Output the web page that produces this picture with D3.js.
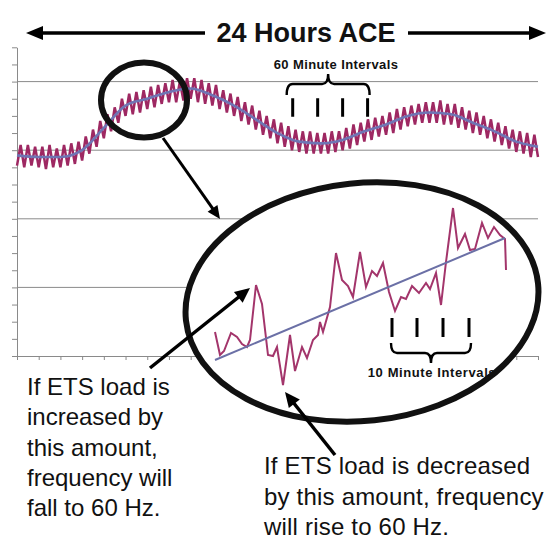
<!DOCTYPE html>
<html>
<head>
<meta charset="utf-8">
<script src="https://cdn.jsdelivr.net/npm/d3@7"></script>
<style>
  body { margin: 0; background: #fff; }
  svg { display: block; font-family: "Liberation Sans", Arial, sans-serif; }
</style>
</head>
<body>
<svg id="chart" width="548" height="541"></svg>
<script>
// ---- data (axis units) ----
// smooth ACE trend, one value per hour 0..24
var trendValues = [11.7, 11.6, 11.6, 12.0, 13.3, 14.6, 15.0, 15.4, 15.6, 15.2, 14.6, 13.8, 13.0,
                   12.5, 12.4, 12.6, 13.1, 13.5, 14.0, 14.2, 14.1, 13.6, 13.1, 12.5, 12.2];
// raw ACE, one value every 10 minutes
var rawValues = [
  11.1, 12.3, 11.0, 12.3, 11.1, 12.2,
  11.0, 12.2, 10.9, 12.3, 11.0, 12.1,
  11.0, 12.3, 11.1, 12.4, 11.2, 12.5,
  11.4, 12.8, 11.8, 13.2, 12.2, 13.7,
  12.7, 14.1, 13.1, 14.5, 13.6, 15.0,
  14.0, 15.3, 14.1, 15.4, 14.2, 15.5,
  14.4, 15.7, 14.5, 15.8, 14.7, 15.9,
  14.8, 16.1, 14.8, 16.0, 14.9, 16.2,
  15.0, 16.2, 14.8, 16.1, 14.7, 15.9,
  14.6, 15.8, 14.4, 15.5, 14.2, 15.3,
  14.0, 15.1, 13.7, 14.8, 13.5, 14.6,
  13.2, 14.3, 12.9, 14.0, 12.7, 13.8,
  12.4, 13.6, 12.2, 13.4, 12.0, 13.2,
  11.9, 13.1, 11.8, 13.1, 11.8, 13.0,
  11.8, 13.0, 11.8, 13.1, 11.9, 13.1,
  12.0, 13.3, 12.1, 13.5, 12.3, 13.6,
  12.5, 13.8, 12.6, 13.9, 12.8, 14.0,
  12.9, 14.2, 13.0, 14.4, 13.2, 14.5,
  13.4, 14.6, 13.5, 14.7, 13.6, 14.8,
  13.6, 14.8, 13.6, 14.9, 13.5, 14.7,
  13.5, 14.7, 13.3, 14.5, 13.2, 14.3,
  13.0, 14.2, 12.9, 14.0, 12.7, 13.8,
  12.5, 13.6, 12.3, 13.4, 12.1, 13.2,
  11.9, 13.1, 11.8, 13.0, 11.6, 12.9,
  11.6
];
var samplesPerHour = 6;

// zoomed-in detail (minutes, value)
var insetMinutes = [0, 1, 1.8, 3.2, 4.4, 5.4, 6.4, 7, 8.2, 9.4, 10.6, 11.6, 12.4, 13.6, 15, 16, 17.4, 18.4,
                    19.6, 20.6, 21, 21.6, 23, 24.2, 25.4, 26.6, 27.6, 29, 30.2, 31.4, 32.4, 33.6, 34.8, 36,
                    37.2, 38.2, 39.4, 40.8, 42.2, 43, 44.2, 45.2, 46.2, 47.6, 48.6, 50, 51, 52, 53.4, 54.6,
                    55.8, 57, 58, 58.2];
var insetValues = [11.6, 7, 7.8, 11.4, 10.6, 9.2, 8.6, 10, 21, 17.2, 7, 6.8, 8.6, 1, 11, 3.8, 8.6, 6.4,
                   10, 11, 13.6, 11.6, 16.6, 27.4, 22, 20.8, 18.6, 27.6, 20.6, 23.8, 22.8, 25.4, 19.6, 15.8,
                   18.6, 18.2, 20.8, 19.4, 21.4, 20.2, 23.4, 17, 25.6, 36.4, 28.4, 31.2, 28, 28.2, 33.4, 30.4,
                   32.6, 31, 30.2, 24];
var insetTrendMinutes = [0, 58];
var insetTrendValues = [6, 30.4];

var gridValues = [4, 8, 12, 16];
var hourMarks = [12.7, 13.85, 15.0, 16.15];     // "60 Minute Intervals" ticks (hours)
var tenMinMarks = [35.4, 40.4, 45.6, 50.8];     // "10 Minute Intervals" ticks (minutes)

// ---- layout ----
var svg = d3.select("#chart");

var x = d3.scaleLinear().domain([0, 24]).range([17, 538]);
var y = d3.scaleLinear().domain([0, 18]).range([356, 47.3]);

var ix = d3.scaleLinear().domain([0, 58]).range([215, 505]);
var iy = d3.scaleLinear().domain([0, 36]).range([390, 210]);

// gridlines
svg.append("g")
    .selectAll("line")
    .data(gridValues)
    .enter().append("line")
    .attr("x1", x(0)).attr("x2", x(24))
    .attr("y1", function(d) { return y(d); })
    .attr("y2", function(d) { return y(d); })
    .attr("stroke", "#8a8a8a")
    .attr("stroke-width", 1);

// axes, no labels
svg.append("g")
    .attr("transform", "translate(" + x(0) + ",0)")
    .call(d3.axisLeft(y).ticks(18).tickSize(5).tickSizeOuter(0).tickFormat(""));
svg.append("g")
    .attr("transform", "translate(0," + y(0) + ")")
    .call(d3.axisBottom(x).ticks(24).tickSize(4).tickSizeOuter(0).tickFormat(""));
svg.selectAll(".domain, .tick line").attr("stroke", "#8a8a8a");

// raw and trend lines
var rawLine = d3.line()
    .x(function(d, i) { return x(i / samplesPerHour); })
    .y(function(d) { return y(d); });
svg.append("path")
    .datum(rawValues)
    .attr("d", rawLine)
    .attr("fill", "none")
    .attr("stroke", "#9e2862")
    .attr("stroke-width", 2.5);

var trendLine = d3.line()
    .curve(d3.curveMonotoneX)
    .x(function(d, i) { return x(i); })
    .y(function(d) { return y(d); });
svg.append("path")
    .datum(trendValues)
    .attr("d", trendLine)
    .attr("fill", "none")
    .attr("stroke", "#6f74b4")
    .attr("stroke-width", 2.6);

// helpers
function arrow(x1, y1, x2, y2, w, head, hw) {
    var a = Math.atan2(y2 - y1, x2 - x1);
    var bx = x2 - head * Math.cos(a), by = y2 - head * Math.sin(a);
    var px = -Math.sin(a) * hw, py = Math.cos(a) * hw;
    svg.append("line")
        .attr("x1", x1).attr("y1", y1).attr("x2", bx + Math.cos(a)).attr("y2", by + Math.sin(a))
        .attr("stroke", "#000").attr("stroke-width", w);
    svg.append("polygon")
        .attr("points", [[x2, y2], [bx + px, by + py], [bx - px, by - py]].join(" "))
        .attr("fill", "#000");
}

// curly brace between x0 and x1, hooks at yEnd, bar at yBar, point at yTip
function brace(x0, x1, yEnd, yBar, yTip) {
    var xm = (x0 + x1) / 2, r = 6;
    var p = d3.path();
    p.moveTo(x0, yEnd);
    p.quadraticCurveTo(x0, yBar, x0 + r, yBar);
    p.lineTo(xm - r, yBar);
    p.quadraticCurveTo(xm, yBar, xm, yTip);
    p.quadraticCurveTo(xm, yBar, xm + r, yBar);
    p.lineTo(x1 - r, yBar);
    p.quadraticCurveTo(x1, yBar, x1, yEnd);
    svg.append("path").attr("d", p.toString())
        .attr("fill", "none").attr("stroke", "#000").attr("stroke-width", 2.4);
}

// title with double arrow
svg.append("text")
    .attr("x", 306).attr("y", 42)
    .attr("text-anchor", "middle")
    .attr("font-size", 27).attr("font-weight", "bold")
    .attr("fill", "#111")
    .text("24 Hours ACE");
arrow(205, 33, 26, 33, 3.5, 17, 7);
arrow(408, 33, 546, 33, 3.5, 17, 7);

// 60 minute marks
svg.append("text")
    .attr("x", 336).attr("y", 69)
    .attr("text-anchor", "middle")
    .attr("font-size", 13).attr("font-weight", "bold")
    .attr("letter-spacing", 0.4)
    .attr("fill", "#111")
    .text("60 Minute Intervals");
brace(x(hourMarks[0]) - 6, x(hourMarks[3]) + 2, 95, 84, 74);
svg.append("g").selectAll("line")
    .data(hourMarks)
    .enter().append("line")
    .attr("x1", function(d) { return x(d); }).attr("x2", function(d) { return x(d); })
    .attr("y1", y(15.03)).attr("y2", y(13.95))
    .attr("stroke", "#000").attr("stroke-width", 3);

// small circle around the peak
svg.append("ellipse")
    .attr("cx", 144).attr("cy", 100).attr("rx", 43).attr("ry", 37.5)
    .attr("fill", "none").attr("stroke", "#111").attr("stroke-width", 6);
arrow(163, 138, 220, 219, 3, 13, 6);

// big zoom ellipse
svg.append("ellipse")
    .attr("cx", 362).attr("cy", 302).attr("rx", 177).attr("ry", 119)
    .attr("transform", "rotate(-6,362,302)")
    .attr("fill", "#fff").attr("stroke", "#111").attr("stroke-width", 6);

var insetLine = d3.line()
    .x(function(d) { return ix(d[0]); })
    .y(function(d) { return iy(d[1]); });
svg.append("path")
    .datum(d3.zip(insetMinutes, insetValues))
    .attr("d", insetLine)
    .attr("fill", "none")
    .attr("stroke", "#a3356b")
    .attr("stroke-width", 2);
svg.append("path")
    .datum(d3.zip(insetTrendMinutes, insetTrendValues))
    .attr("d", insetLine)
    .attr("fill", "none")
    .attr("stroke", "#6b70a6")
    .attr("stroke-width", 2);

// 10 minute marks
svg.append("g").selectAll("line")
    .data(tenMinMarks)
    .enter().append("line")
    .attr("x1", function(d) { return ix(d); }).attr("x2", function(d) { return ix(d); })
    .attr("y1", 318).attr("y2", 337)
    .attr("stroke", "#000").attr("stroke-width", 3);
brace(ix(tenMinMarks[0]) - 1, ix(tenMinMarks[3]) + 2, 343, 353, 363);
svg.append("text")
    .attr("x", 432).attr("y", 377)
    .attr("text-anchor", "middle")
    .attr("font-size", 13).attr("font-weight", "bold")
    .attr("letter-spacing", 0.6)
    .attr("fill", "#111")
    .text("10 Minute Intervals");

// callout arrows
arrow(150, 368, 250, 288, 3.5, 15, 7);
arrow(335, 455, 285, 392, 3.5, 15, 7);

// callout text
var leftLines = ["If ETS load is", "increased by", "this amount,", "frequency will", "fall to 60 Hz."];
var rightLines = ["If ETS load is decreased", "by this amount, frequency", "will rise to 60 Hz."];

svg.append("text")
    .attr("font-size", 24).attr("fill", "#111")
    .selectAll("tspan")
    .data(leftLines)
    .enter().append("tspan")
    .attr("x", 27)
    .attr("y", function(d, i) { return 395 + i * 30.3; })
    .text(function(d) { return d; });

svg.append("text")
    .attr("font-size", 24).attr("fill", "#111")
    .attr("letter-spacing", 0.2)
    .selectAll("tspan")
    .data(rightLines)
    .enter().append("tspan")
    .attr("x", 264)
    .attr("y", function(d, i) { return 474 + i * 30.5; })
    .text(function(d) { return d; });
</script>
</body>
</html>
